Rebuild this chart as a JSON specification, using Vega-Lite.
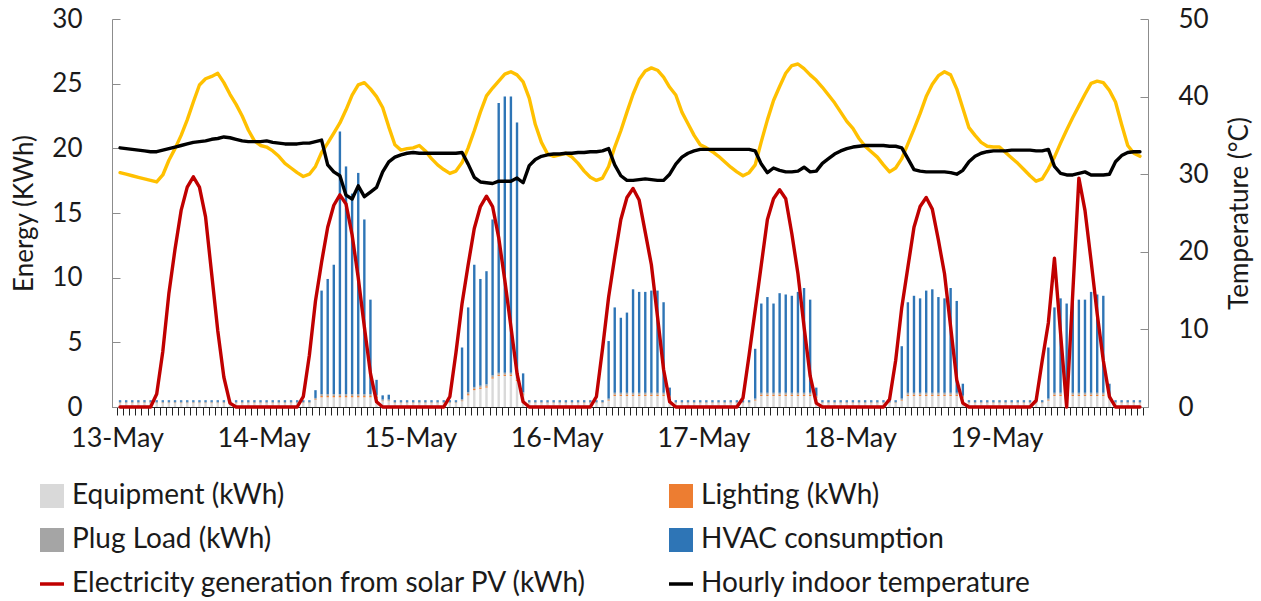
{
  "$schema": "https://vega.github.io/schema/vega-lite/v6.json",
  "width": 1036,
  "height": 388,
  "autosize": "none",
  "padding": {"left": 112, "top": 19, "right": 113, "bottom": 194},
  "background": "white",
  "config": {
    "font": "Lato",
    "view": {"stroke": null},
    "axis": {"labelFont": "Lato", "titleFont": "Lato", "labelFontSize": 26, "titleFontSize": 26, "titleFontWeight": "normal", "labelColor": "#1a1a1a", "titleColor": "#1a1a1a", "grid": false, "domainColor": "#8c8c8c", "tickColor": "#8c8c8c"},
    "line": {"strokeJoin": "round", "strokeCap": "round"}
  },
  "data": {"values": [
{"h":0,"a_eq":0.3,"b_li":0.02,"c_pl":0.08,"d_hv":0.12,"pv":0,"tin":33.4,"tout":30.2},
{"h":1,"a_eq":0.3,"b_li":0.02,"c_pl":0.08,"d_hv":0.12,"pv":0,"tin":33.3,"tout":30.0},
{"h":2,"a_eq":0.3,"b_li":0.02,"c_pl":0.08,"d_hv":0.12,"pv":0,"tin":33.2,"tout":29.8},
{"h":3,"a_eq":0.3,"b_li":0.02,"c_pl":0.08,"d_hv":0.12,"pv":0,"tin":33.1,"tout":29.6},
{"h":4,"a_eq":0.3,"b_li":0.02,"c_pl":0.08,"d_hv":0.12,"pv":0,"tin":33.0,"tout":29.4},
{"h":5,"a_eq":0.3,"b_li":0.02,"c_pl":0.08,"d_hv":0.12,"pv":0,"tin":32.9,"tout":29.2},
{"h":6,"a_eq":0.3,"b_li":0.02,"c_pl":0.08,"d_hv":0.12,"pv":1.0,"tin":32.9,"tout":29.0},
{"h":7,"a_eq":0.3,"b_li":0.02,"c_pl":0.08,"d_hv":0.12,"pv":4.3,"tin":33.1,"tout":29.9},
{"h":8,"a_eq":0.3,"b_li":0.02,"c_pl":0.08,"d_hv":0.12,"pv":8.8,"tin":33.3,"tout":31.8},
{"h":9,"a_eq":0.3,"b_li":0.02,"c_pl":0.08,"d_hv":0.12,"pv":12.2,"tin":33.5,"tout":33.3},
{"h":10,"a_eq":0.3,"b_li":0.02,"c_pl":0.08,"d_hv":0.12,"pv":15.2,"tin":33.7,"tout":35.0},
{"h":11,"a_eq":0.3,"b_li":0.02,"c_pl":0.08,"d_hv":0.12,"pv":17.0,"tin":33.9,"tout":37.0},
{"h":12,"a_eq":0.3,"b_li":0.02,"c_pl":0.08,"d_hv":0.12,"pv":17.8,"tin":34.1,"tout":39.3},
{"h":13,"a_eq":0.3,"b_li":0.02,"c_pl":0.08,"d_hv":0.12,"pv":17.0,"tin":34.2,"tout":41.5},
{"h":14,"a_eq":0.3,"b_li":0.02,"c_pl":0.08,"d_hv":0.12,"pv":14.7,"tin":34.3,"tout":42.3},
{"h":15,"a_eq":0.3,"b_li":0.02,"c_pl":0.08,"d_hv":0.12,"pv":10.3,"tin":34.5,"tout":42.6},
{"h":16,"a_eq":0.3,"b_li":0.02,"c_pl":0.08,"d_hv":0.12,"pv":5.9,"tin":34.6,"tout":43.0},
{"h":17,"a_eq":0.3,"b_li":0.02,"c_pl":0.08,"d_hv":0.12,"pv":2.3,"tin":34.8,"tout":41.8},
{"h":18,"a_eq":0.3,"b_li":0.02,"c_pl":0.08,"d_hv":0.12,"pv":0.3,"tin":34.7,"tout":40.3},
{"h":19,"a_eq":0.3,"b_li":0.02,"c_pl":0.08,"d_hv":0.12,"pv":0,"tin":34.5,"tout":39.0},
{"h":20,"a_eq":0.3,"b_li":0.02,"c_pl":0.08,"d_hv":0.12,"pv":0,"tin":34.3,"tout":37.5},
{"h":21,"a_eq":0.3,"b_li":0.02,"c_pl":0.08,"d_hv":0.12,"pv":0,"tin":34.2,"tout":35.7},
{"h":22,"a_eq":0.3,"b_li":0.02,"c_pl":0.08,"d_hv":0.12,"pv":0,"tin":34.2,"tout":34.3},
{"h":23,"a_eq":0.3,"b_li":0.02,"c_pl":0.08,"d_hv":0.12,"pv":0,"tin":34.2,"tout":33.7},
{"h":24,"a_eq":0.3,"b_li":0.02,"c_pl":0.08,"d_hv":0.12,"pv":0,"tin":34.3,"tout":33.5},
{"h":25,"a_eq":0.3,"b_li":0.02,"c_pl":0.08,"d_hv":0.12,"pv":0,"tin":34.1,"tout":33.0},
{"h":26,"a_eq":0.3,"b_li":0.02,"c_pl":0.08,"d_hv":0.12,"pv":0,"tin":34.0,"tout":32.3},
{"h":27,"a_eq":0.3,"b_li":0.02,"c_pl":0.08,"d_hv":0.12,"pv":0,"tin":33.9,"tout":31.4},
{"h":28,"a_eq":0.3,"b_li":0.02,"c_pl":0.08,"d_hv":0.12,"pv":0,"tin":33.9,"tout":30.8},
{"h":29,"a_eq":0.3,"b_li":0.02,"c_pl":0.08,"d_hv":0.12,"pv":0,"tin":33.9,"tout":30.2},
{"h":30,"a_eq":0.3,"b_li":0.02,"c_pl":0.08,"d_hv":0.12,"pv":0.8,"tin":34.0,"tout":29.7},
{"h":31,"a_eq":0.3,"b_li":0.02,"c_pl":0.08,"d_hv":0.12,"pv":4.0,"tin":34.0,"tout":30.0},
{"h":32,"a_eq":0.55,"b_li":0.05,"c_pl":0.1,"d_hv":0.6,"pv":8.2,"tin":34.2,"tout":31.0},
{"h":33,"a_eq":0.75,"b_li":0.1,"c_pl":0.15,"d_hv":8.0,"pv":11.2,"tin":34.4,"tout":32.8},
{"h":34,"a_eq":0.75,"b_li":0.1,"c_pl":0.15,"d_hv":8.9,"pv":13.9,"tin":31.2,"tout":34.0},
{"h":35,"a_eq":0.75,"b_li":0.1,"c_pl":0.15,"d_hv":10.0,"pv":15.6,"tin":30.3,"tout":35.3},
{"h":36,"a_eq":0.75,"b_li":0.1,"c_pl":0.15,"d_hv":20.3,"pv":16.4,"tin":29.8,"tout":36.6},
{"h":37,"a_eq":0.75,"b_li":0.1,"c_pl":0.15,"d_hv":17.6,"pv":15.7,"tin":27.3,"tout":38.3},
{"h":38,"a_eq":0.75,"b_li":0.1,"c_pl":0.15,"d_hv":15.5,"pv":13.3,"tin":26.8,"tout":40.2},
{"h":39,"a_eq":0.75,"b_li":0.1,"c_pl":0.15,"d_hv":17.1,"pv":10.0,"tin":28.5,"tout":41.5},
{"h":40,"a_eq":0.75,"b_li":0.1,"c_pl":0.15,"d_hv":13.5,"pv":6.2,"tin":27.1,"tout":41.8},
{"h":41,"a_eq":0.75,"b_li":0.1,"c_pl":0.15,"d_hv":7.3,"pv":2.6,"tin":27.7,"tout":41.0},
{"h":42,"a_eq":0.7,"b_li":0.08,"c_pl":0.15,"d_hv":1.17,"pv":0.4,"tin":28.3,"tout":40.0},
{"h":43,"a_eq":0.45,"b_li":0.03,"c_pl":0.1,"d_hv":0.32,"pv":0,"tin":30.3,"tout":38.6},
{"h":44,"a_eq":0.45,"b_li":0.03,"c_pl":0.1,"d_hv":0.37,"pv":0,"tin":31.6,"tout":36.1},
{"h":45,"a_eq":0.3,"b_li":0.02,"c_pl":0.08,"d_hv":0.12,"pv":0,"tin":32.2,"tout":33.8},
{"h":46,"a_eq":0.3,"b_li":0.02,"c_pl":0.08,"d_hv":0.12,"pv":0,"tin":32.5,"tout":33.1},
{"h":47,"a_eq":0.3,"b_li":0.02,"c_pl":0.08,"d_hv":0.12,"pv":0,"tin":32.7,"tout":33.3},
{"h":48,"a_eq":0.3,"b_li":0.02,"c_pl":0.08,"d_hv":0.12,"pv":0,"tin":32.8,"tout":33.4},
{"h":49,"a_eq":0.3,"b_li":0.02,"c_pl":0.08,"d_hv":0.12,"pv":0,"tin":32.7,"tout":33.7},
{"h":50,"a_eq":0.3,"b_li":0.02,"c_pl":0.08,"d_hv":0.12,"pv":0,"tin":32.7,"tout":33.0},
{"h":51,"a_eq":0.3,"b_li":0.02,"c_pl":0.08,"d_hv":0.12,"pv":0,"tin":32.7,"tout":32.0},
{"h":52,"a_eq":0.3,"b_li":0.02,"c_pl":0.08,"d_hv":0.12,"pv":0,"tin":32.7,"tout":31.2},
{"h":53,"a_eq":0.3,"b_li":0.02,"c_pl":0.08,"d_hv":0.12,"pv":0,"tin":32.7,"tout":30.6},
{"h":54,"a_eq":0.3,"b_li":0.02,"c_pl":0.08,"d_hv":0.12,"pv":0.8,"tin":32.7,"tout":30.1},
{"h":55,"a_eq":0.3,"b_li":0.02,"c_pl":0.08,"d_hv":0.12,"pv":4.2,"tin":32.7,"tout":30.4},
{"h":56,"a_eq":0.45,"b_li":0.05,"c_pl":0.1,"d_hv":4.0,"pv":8.0,"tin":32.8,"tout":31.5},
{"h":57,"a_eq":0.9,"b_li":0.1,"c_pl":0.15,"d_hv":6.55,"pv":11.0,"tin":31.3,"tout":33.4},
{"h":58,"a_eq":1.3,"b_li":0.1,"c_pl":0.15,"d_hv":9.45,"pv":13.8,"tin":29.6,"tout":35.6},
{"h":59,"a_eq":1.4,"b_li":0.1,"c_pl":0.15,"d_hv":8.25,"pv":15.5,"tin":29.0,"tout":38.0},
{"h":60,"a_eq":1.5,"b_li":0.1,"c_pl":0.15,"d_hv":8.75,"pv":16.3,"tin":28.9,"tout":40.1},
{"h":61,"a_eq":2.2,"b_li":0.1,"c_pl":0.15,"d_hv":12.05,"pv":15.5,"tin":28.8,"tout":41.1},
{"h":62,"a_eq":2.4,"b_li":0.1,"c_pl":0.15,"d_hv":20.85,"pv":13.1,"tin":29.1,"tout":42.0},
{"h":63,"a_eq":2.4,"b_li":0.1,"c_pl":0.15,"d_hv":21.35,"pv":9.8,"tin":29.1,"tout":42.9},
{"h":64,"a_eq":2.4,"b_li":0.1,"c_pl":0.15,"d_hv":21.35,"pv":6.2,"tin":29.1,"tout":43.2},
{"h":65,"a_eq":2.0,"b_li":0.1,"c_pl":0.15,"d_hv":19.75,"pv":2.6,"tin":29.5,"tout":42.8},
{"h":66,"a_eq":0.9,"b_li":0.08,"c_pl":0.15,"d_hv":1.47,"pv":0.4,"tin":28.9,"tout":41.9},
{"h":67,"a_eq":0.3,"b_li":0.02,"c_pl":0.08,"d_hv":0.12,"pv":0,"tin":31.1,"tout":39.8},
{"h":68,"a_eq":0.3,"b_li":0.02,"c_pl":0.08,"d_hv":0.12,"pv":0,"tin":31.9,"tout":36.4},
{"h":69,"a_eq":0.3,"b_li":0.02,"c_pl":0.08,"d_hv":0.12,"pv":0,"tin":32.3,"tout":34.1},
{"h":70,"a_eq":0.3,"b_li":0.02,"c_pl":0.08,"d_hv":0.12,"pv":0,"tin":32.5,"tout":32.6},
{"h":71,"a_eq":0.3,"b_li":0.02,"c_pl":0.08,"d_hv":0.12,"pv":0,"tin":32.6,"tout":32.3},
{"h":72,"a_eq":0.3,"b_li":0.02,"c_pl":0.08,"d_hv":0.12,"pv":0,"tin":32.6,"tout":32.5},
{"h":73,"a_eq":0.3,"b_li":0.02,"c_pl":0.08,"d_hv":0.12,"pv":0,"tin":32.7,"tout":32.7},
{"h":74,"a_eq":0.3,"b_li":0.02,"c_pl":0.08,"d_hv":0.12,"pv":0,"tin":32.7,"tout":32.2},
{"h":75,"a_eq":0.3,"b_li":0.02,"c_pl":0.08,"d_hv":0.12,"pv":0,"tin":32.8,"tout":31.4},
{"h":76,"a_eq":0.3,"b_li":0.02,"c_pl":0.08,"d_hv":0.12,"pv":0,"tin":32.8,"tout":30.4},
{"h":77,"a_eq":0.3,"b_li":0.02,"c_pl":0.08,"d_hv":0.12,"pv":0,"tin":32.9,"tout":29.6},
{"h":78,"a_eq":0.3,"b_li":0.02,"c_pl":0.08,"d_hv":0.12,"pv":0.8,"tin":32.9,"tout":29.2},
{"h":79,"a_eq":0.3,"b_li":0.02,"c_pl":0.08,"d_hv":0.12,"pv":4.5,"tin":33.0,"tout":29.5},
{"h":80,"a_eq":0.5,"b_li":0.05,"c_pl":0.1,"d_hv":4.45,"pv":8.5,"tin":33.3,"tout":31.0},
{"h":81,"a_eq":0.85,"b_li":0.1,"c_pl":0.15,"d_hv":6.6,"pv":11.6,"tin":31.2,"tout":33.5},
{"h":82,"a_eq":0.85,"b_li":0.1,"c_pl":0.15,"d_hv":5.8,"pv":14.5,"tin":29.8,"tout":35.6},
{"h":83,"a_eq":0.85,"b_li":0.1,"c_pl":0.15,"d_hv":6.2,"pv":16.2,"tin":29.2,"tout":38.0},
{"h":84,"a_eq":0.85,"b_li":0.1,"c_pl":0.15,"d_hv":8.0,"pv":16.9,"tin":29.2,"tout":40.3},
{"h":85,"a_eq":0.85,"b_li":0.1,"c_pl":0.15,"d_hv":7.8,"pv":16.0,"tin":29.3,"tout":42.2},
{"h":86,"a_eq":0.85,"b_li":0.1,"c_pl":0.15,"d_hv":7.8,"pv":13.5,"tin":29.4,"tout":43.3},
{"h":87,"a_eq":0.85,"b_li":0.1,"c_pl":0.15,"d_hv":7.9,"pv":11.0,"tin":29.3,"tout":43.7},
{"h":88,"a_eq":0.85,"b_li":0.1,"c_pl":0.15,"d_hv":7.9,"pv":7.0,"tin":29.2,"tout":43.4},
{"h":89,"a_eq":0.85,"b_li":0.1,"c_pl":0.15,"d_hv":7.0,"pv":2.9,"tin":29.2,"tout":42.5},
{"h":90,"a_eq":0.7,"b_li":0.05,"c_pl":0.12,"d_hv":0.63,"pv":0.4,"tin":30.0,"tout":41.2},
{"h":91,"a_eq":0.3,"b_li":0.02,"c_pl":0.08,"d_hv":0.12,"pv":0,"tin":31.3,"tout":40.2},
{"h":92,"a_eq":0.3,"b_li":0.02,"c_pl":0.08,"d_hv":0.12,"pv":0,"tin":32.2,"tout":38.0},
{"h":93,"a_eq":0.3,"b_li":0.02,"c_pl":0.08,"d_hv":0.12,"pv":0,"tin":32.7,"tout":36.5},
{"h":94,"a_eq":0.3,"b_li":0.02,"c_pl":0.08,"d_hv":0.12,"pv":0,"tin":33.0,"tout":35.0},
{"h":95,"a_eq":0.3,"b_li":0.02,"c_pl":0.08,"d_hv":0.12,"pv":0,"tin":33.2,"tout":33.8},
{"h":96,"a_eq":0.3,"b_li":0.02,"c_pl":0.08,"d_hv":0.12,"pv":0,"tin":33.2,"tout":33.4},
{"h":97,"a_eq":0.3,"b_li":0.02,"c_pl":0.08,"d_hv":0.12,"pv":0,"tin":33.2,"tout":32.9},
{"h":98,"a_eq":0.3,"b_li":0.02,"c_pl":0.08,"d_hv":0.12,"pv":0,"tin":33.2,"tout":32.3},
{"h":99,"a_eq":0.3,"b_li":0.02,"c_pl":0.08,"d_hv":0.12,"pv":0,"tin":33.2,"tout":31.6},
{"h":100,"a_eq":0.3,"b_li":0.02,"c_pl":0.08,"d_hv":0.12,"pv":0,"tin":33.2,"tout":30.9},
{"h":101,"a_eq":0.3,"b_li":0.02,"c_pl":0.08,"d_hv":0.12,"pv":0,"tin":33.2,"tout":30.3},
{"h":102,"a_eq":0.3,"b_li":0.02,"c_pl":0.08,"d_hv":0.12,"pv":0.7,"tin":33.2,"tout":29.8},
{"h":103,"a_eq":0.3,"b_li":0.02,"c_pl":0.08,"d_hv":0.12,"pv":4.0,"tin":33.2,"tout":30.2},
{"h":104,"a_eq":0.5,"b_li":0.05,"c_pl":0.1,"d_hv":3.85,"pv":7.5,"tin":33.0,"tout":31.2},
{"h":105,"a_eq":0.85,"b_li":0.1,"c_pl":0.15,"d_hv":6.9,"pv":11.0,"tin":31.3,"tout":34.2},
{"h":106,"a_eq":0.85,"b_li":0.1,"c_pl":0.15,"d_hv":7.4,"pv":14.5,"tin":30.2,"tout":37.0},
{"h":107,"a_eq":0.85,"b_li":0.1,"c_pl":0.15,"d_hv":6.9,"pv":16.1,"tin":30.8,"tout":39.5},
{"h":108,"a_eq":0.85,"b_li":0.1,"c_pl":0.15,"d_hv":7.7,"pv":16.8,"tin":30.5,"tout":41.3},
{"h":109,"a_eq":0.85,"b_li":0.1,"c_pl":0.15,"d_hv":7.6,"pv":16.1,"tin":30.3,"tout":43.0},
{"h":110,"a_eq":0.85,"b_li":0.1,"c_pl":0.15,"d_hv":7.5,"pv":13.4,"tin":30.3,"tout":44.0},
{"h":111,"a_eq":0.85,"b_li":0.1,"c_pl":0.15,"d_hv":7.8,"pv":10.3,"tin":30.4,"tout":44.2},
{"h":112,"a_eq":0.85,"b_li":0.1,"c_pl":0.15,"d_hv":8.1,"pv":6.2,"tin":30.9,"tout":43.6},
{"h":113,"a_eq":0.85,"b_li":0.1,"c_pl":0.15,"d_hv":7.2,"pv":2.4,"tin":30.3,"tout":42.8},
{"h":114,"a_eq":0.7,"b_li":0.05,"c_pl":0.12,"d_hv":0.63,"pv":0.3,"tin":30.4,"tout":42.1},
{"h":115,"a_eq":0.3,"b_li":0.02,"c_pl":0.08,"d_hv":0.12,"pv":0,"tin":31.4,"tout":41.2},
{"h":116,"a_eq":0.3,"b_li":0.02,"c_pl":0.08,"d_hv":0.12,"pv":0,"tin":32.0,"tout":40.2},
{"h":117,"a_eq":0.3,"b_li":0.02,"c_pl":0.08,"d_hv":0.12,"pv":0,"tin":32.6,"tout":39.2},
{"h":118,"a_eq":0.3,"b_li":0.02,"c_pl":0.08,"d_hv":0.12,"pv":0,"tin":33.0,"tout":38.0},
{"h":119,"a_eq":0.3,"b_li":0.02,"c_pl":0.08,"d_hv":0.12,"pv":0,"tin":33.3,"tout":36.8},
{"h":120,"a_eq":0.3,"b_li":0.02,"c_pl":0.08,"d_hv":0.12,"pv":0,"tin":33.5,"tout":35.9},
{"h":121,"a_eq":0.3,"b_li":0.02,"c_pl":0.08,"d_hv":0.12,"pv":0,"tin":33.6,"tout":34.6},
{"h":122,"a_eq":0.3,"b_li":0.02,"c_pl":0.08,"d_hv":0.12,"pv":0,"tin":33.7,"tout":33.6},
{"h":123,"a_eq":0.3,"b_li":0.02,"c_pl":0.08,"d_hv":0.12,"pv":0,"tin":33.7,"tout":32.9},
{"h":124,"a_eq":0.3,"b_li":0.02,"c_pl":0.08,"d_hv":0.12,"pv":0,"tin":33.7,"tout":32.2},
{"h":125,"a_eq":0.3,"b_li":0.02,"c_pl":0.08,"d_hv":0.12,"pv":0,"tin":33.7,"tout":31.2},
{"h":126,"a_eq":0.3,"b_li":0.02,"c_pl":0.08,"d_hv":0.12,"pv":0.6,"tin":33.6,"tout":30.3},
{"h":127,"a_eq":0.3,"b_li":0.02,"c_pl":0.08,"d_hv":0.12,"pv":3.6,"tin":33.6,"tout":30.8},
{"h":128,"a_eq":0.5,"b_li":0.05,"c_pl":0.1,"d_hv":4.05,"pv":7.7,"tin":33.4,"tout":32.0},
{"h":129,"a_eq":0.85,"b_li":0.1,"c_pl":0.15,"d_hv":7.0,"pv":10.8,"tin":32.0,"tout":33.9},
{"h":130,"a_eq":0.85,"b_li":0.1,"c_pl":0.15,"d_hv":7.5,"pv":13.9,"tin":30.6,"tout":35.8},
{"h":131,"a_eq":0.85,"b_li":0.1,"c_pl":0.15,"d_hv":7.3,"pv":15.5,"tin":30.4,"tout":37.8},
{"h":132,"a_eq":0.85,"b_li":0.1,"c_pl":0.15,"d_hv":7.9,"pv":16.2,"tin":30.3,"tout":40.0},
{"h":133,"a_eq":0.85,"b_li":0.1,"c_pl":0.15,"d_hv":8.0,"pv":15.3,"tin":30.3,"tout":41.6},
{"h":134,"a_eq":0.85,"b_li":0.1,"c_pl":0.15,"d_hv":7.4,"pv":12.9,"tin":30.3,"tout":42.7},
{"h":135,"a_eq":0.85,"b_li":0.1,"c_pl":0.15,"d_hv":7.3,"pv":10.3,"tin":30.3,"tout":43.2},
{"h":136,"a_eq":0.85,"b_li":0.1,"c_pl":0.15,"d_hv":8.1,"pv":6.2,"tin":30.2,"tout":42.8},
{"h":137,"a_eq":0.85,"b_li":0.1,"c_pl":0.15,"d_hv":7.1,"pv":2.1,"tin":30.0,"tout":41.0},
{"h":138,"a_eq":0.7,"b_li":0.05,"c_pl":0.12,"d_hv":0.93,"pv":0.3,"tin":30.5,"tout":38.5},
{"h":139,"a_eq":0.3,"b_li":0.02,"c_pl":0.08,"d_hv":0.12,"pv":0,"tin":31.6,"tout":36.0},
{"h":140,"a_eq":0.3,"b_li":0.02,"c_pl":0.08,"d_hv":0.12,"pv":0,"tin":32.3,"tout":35.0},
{"h":141,"a_eq":0.3,"b_li":0.02,"c_pl":0.08,"d_hv":0.12,"pv":0,"tin":32.7,"tout":34.1},
{"h":142,"a_eq":0.3,"b_li":0.02,"c_pl":0.08,"d_hv":0.12,"pv":0,"tin":32.9,"tout":33.6},
{"h":143,"a_eq":0.3,"b_li":0.02,"c_pl":0.08,"d_hv":0.12,"pv":0,"tin":33.0,"tout":33.5},
{"h":144,"a_eq":0.3,"b_li":0.02,"c_pl":0.08,"d_hv":0.12,"pv":0,"tin":33.0,"tout":33.5},
{"h":145,"a_eq":0.3,"b_li":0.02,"c_pl":0.08,"d_hv":0.12,"pv":0,"tin":33.0,"tout":32.8},
{"h":146,"a_eq":0.3,"b_li":0.02,"c_pl":0.08,"d_hv":0.12,"pv":0,"tin":33.1,"tout":32.1},
{"h":147,"a_eq":0.3,"b_li":0.02,"c_pl":0.08,"d_hv":0.12,"pv":0,"tin":33.1,"tout":31.4},
{"h":148,"a_eq":0.3,"b_li":0.02,"c_pl":0.08,"d_hv":0.12,"pv":0,"tin":33.1,"tout":30.6},
{"h":149,"a_eq":0.3,"b_li":0.02,"c_pl":0.08,"d_hv":0.12,"pv":0,"tin":33.1,"tout":29.8},
{"h":150,"a_eq":0.3,"b_li":0.02,"c_pl":0.08,"d_hv":0.12,"pv":0.5,"tin":33.0,"tout":29.1},
{"h":151,"a_eq":0.3,"b_li":0.02,"c_pl":0.08,"d_hv":0.12,"pv":3.6,"tin":33.0,"tout":29.4},
{"h":152,"a_eq":0.5,"b_li":0.05,"c_pl":0.1,"d_hv":3.95,"pv":6.5,"tin":33.2,"tout":30.7},
{"h":153,"a_eq":0.85,"b_li":0.1,"c_pl":0.15,"d_hv":6.6,"pv":11.5,"tin":31.0,"tout":32.2},
{"h":154,"a_eq":0.85,"b_li":0.1,"c_pl":0.15,"d_hv":7.3,"pv":5.7,"tin":30.1,"tout":34.0},
{"h":155,"a_eq":0.85,"b_li":0.1,"c_pl":0.15,"d_hv":6.9,"pv":0,"tin":29.9,"tout":35.7},
{"h":156,"a_eq":0.85,"b_li":0.1,"c_pl":0.15,"d_hv":7.1,"pv":8.8,"tin":29.9,"tout":37.3},
{"h":157,"a_eq":0.85,"b_li":0.1,"c_pl":0.15,"d_hv":7.2,"pv":17.7,"tin":30.1,"tout":38.8},
{"h":158,"a_eq":0.85,"b_li":0.1,"c_pl":0.15,"d_hv":7.2,"pv":15.2,"tin":30.3,"tout":40.3},
{"h":159,"a_eq":0.85,"b_li":0.1,"c_pl":0.15,"d_hv":7.8,"pv":11.3,"tin":29.9,"tout":41.7},
{"h":160,"a_eq":0.85,"b_li":0.1,"c_pl":0.15,"d_hv":7.6,"pv":7.2,"tin":29.9,"tout":42.0},
{"h":161,"a_eq":0.85,"b_li":0.1,"c_pl":0.15,"d_hv":7.5,"pv":3.6,"tin":29.9,"tout":41.8},
{"h":162,"a_eq":0.7,"b_li":0.05,"c_pl":0.12,"d_hv":0.93,"pv":0.8,"tin":30.0,"tout":40.8},
{"h":163,"a_eq":0.3,"b_li":0.02,"c_pl":0.08,"d_hv":0.12,"pv":0,"tin":31.6,"tout":39.3},
{"h":164,"a_eq":0.3,"b_li":0.02,"c_pl":0.08,"d_hv":0.12,"pv":0,"tin":32.4,"tout":36.4},
{"h":165,"a_eq":0.3,"b_li":0.02,"c_pl":0.08,"d_hv":0.12,"pv":0,"tin":32.8,"tout":33.7},
{"h":166,"a_eq":0.3,"b_li":0.02,"c_pl":0.08,"d_hv":0.12,"pv":0,"tin":32.9,"tout":32.7},
{"h":167,"a_eq":0.3,"b_li":0.02,"c_pl":0.08,"d_hv":0.12,"pv":0,"tin":32.9,"tout":32.3}
  ]},
  "encoding": {
    "x": {
      "field": "h", "type": "quantitative",
      "scale": {"domain": [-0.5, 167.5], "nice": false, "zero": false},
      "axis": {
        "title": null,
        "values": [-0.5,0.5,1.5,2.5,3.5,4.5,5.5,6.5,7.5,8.5,9.5,10.5,11.5,12.5,13.5,14.5,15.5,16.5,17.5,18.5,19.5,20.5,21.5,22.5,23.5,24.5,25.5,26.5,27.5,28.5,29.5,30.5,31.5,32.5,33.5,34.5,35.5,36.5,37.5,38.5,39.5,40.5,41.5,42.5,43.5,44.5,45.5,46.5,47.5,48.5,49.5,50.5,51.5,52.5,53.5,54.5,55.5,56.5,57.5,58.5,59.5,60.5,61.5,62.5,63.5,64.5,65.5,66.5,67.5,68.5,69.5,70.5,71.5,72.5,73.5,74.5,75.5,76.5,77.5,78.5,79.5,80.5,81.5,82.5,83.5,84.5,85.5,86.5,87.5,88.5,89.5,90.5,91.5,92.5,93.5,94.5,95.5,96.5,97.5,98.5,99.5,100.5,101.5,102.5,103.5,104.5,105.5,106.5,107.5,108.5,109.5,110.5,111.5,112.5,113.5,114.5,115.5,116.5,117.5,118.5,119.5,120.5,121.5,122.5,123.5,124.5,125.5,126.5,127.5,128.5,129.5,130.5,131.5,132.5,133.5,134.5,135.5,136.5,137.5,138.5,139.5,140.5,141.5,142.5,143.5,144.5,145.5,146.5,147.5,148.5,149.5,150.5,151.5,152.5,153.5,154.5,155.5,156.5,157.5,158.5,159.5,160.5,161.5,162.5,163.5,164.5,165.5,166.5,167.5],
        "labelExpr": "((datum.value + 0.5) % 24 == 0 && datum.value < 160) ? ['13-May','14-May','15-May','16-May','17-May','18-May','19-May'][(datum.value + 0.5) / 24] : ''",
        "tickSize": 8, "tickColor": "#222222", "domainColor": "#222222",
        "labelPadding": 10, "labelOverlap": false, "labelFlush": false, "labelBound": false,
        "labelFontSize": 27
      }
    }
  },
  "layer": [
    {
      "layer": [
        {
          "transform": [{"fold": ["a_eq", "b_li", "c_pl", "d_hv"], "as": ["part", "kwh"]}],
          "mark": {"type": "bar", "size": 2.4},
          "encoding": {
            "y": {
              "field": "kwh", "type": "quantitative", "stack": "zero",
              "scale": {"domain": [0, 30], "nice": false},
              "axis": {"title": "Energy (KWh)", "values": [0,5,10,15,20,25,30], "tickSize": -8, "labelPadding": 38, "titlePadding": 14}
            },
            "order": {"field": "part", "sort": "ascending"},
            "color": {
              "field": "part", "type": "nominal",
              "scale": {
                "domain": ["a_eq", "b_li", "c_pl", "d_hv", "pv", "tin"],
                "range": ["#D9D9D9", "#ED7D31", "#A5A5A5", "#2E75B6", "#C00000", "#000000"]
              },
              "legend": {
                "orient": "none", "legendX": -74, "legendY": 463, "direction": "horizontal",
                "columns": 2, "title": null, "padding": 0,
                "labelFont": "Lato", "labelFontSize": 28, "labelColor": "#1a1a1a", "labelLimit": 1000,
                "symbolSize": 576, "labelOffset": 6, "columnPadding": 74, "rowPadding": 16,
                "labelExpr": "['Equipment (kWh)','Lighting (kWh)','Plug Load (kWh)','HVAC consumption','Electricity generation from solar PV (kWh)','Hourly indoor temperature'][indexof(['a_eq','b_li','c_pl','d_hv','pv','tin'], datum.value)]",
                "encode": {
                  "symbols": {
                    "update": {
                      "shape": {"signal": "indexof(['pv','tin'], datum.value) >= 0 ? 'stroke' : 'square'"},
                      "fill": {"signal": "scale('color', datum.value)"},
                      "stroke": {"signal": "indexof(['pv','tin'], datum.value) >= 0 ? scale('color', datum.value) : 'transparent'"},
                      "strokeWidth": {"signal": "indexof(['pv','tin'], datum.value) >= 0 ? 3.5 : 0"},
                      "opacity": {"value": 1}
                    }
                  }
                }
              }
            }
          }
        },
        {
          "mark": {"type": "line", "strokeWidth": 3.4},
          "encoding": {
            "y": {"field": "pv", "type": "quantitative"},
            "color": {"datum": "pv"}
          }
        }
      ]
    },
    {
      "layer": [
        {
          "mark": {"type": "line", "strokeWidth": 3.4, "color": "#FFC000"},
          "encoding": {
            "y": {
              "field": "tout", "type": "quantitative",
              "scale": {"domain": [0, 50], "nice": false},
              "axis": {"orient": "right", "title": "Temperature (°C)", "values": [0,10,20,30,40,50], "tickSize": -8, "labelPadding": 38, "titlePadding": 18, "titleAngle": 270, "titleBaseline": "top"}
            }
          }
        },
        {
          "mark": {"type": "line", "strokeWidth": 3.4},
          "encoding": {
            "y": {"field": "tin", "type": "quantitative"},
            "color": {"datum": "tin"}
          }
        }
      ]
    }
  ],
  "resolve": {"scale": {"y": "independent"}}
}
